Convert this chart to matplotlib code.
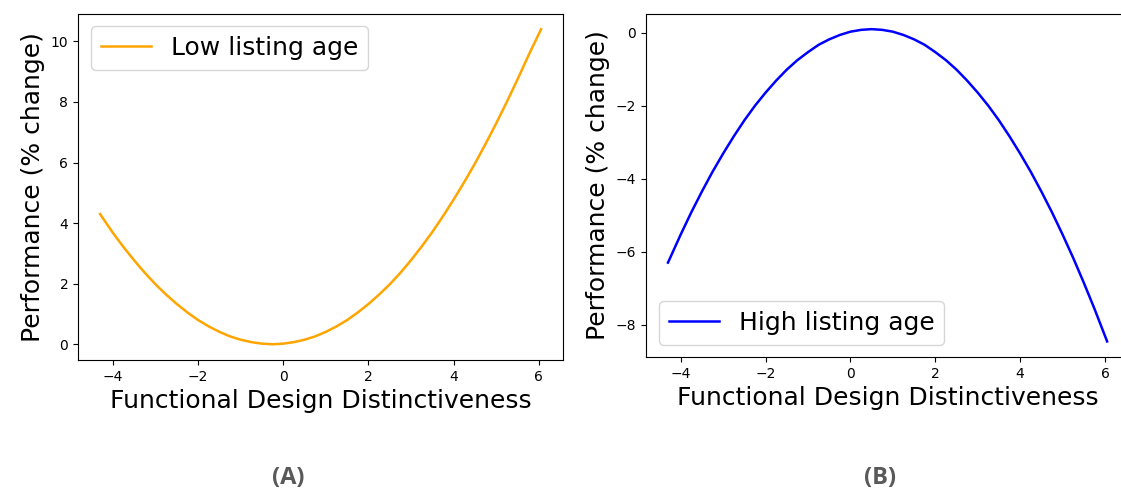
import matplotlib.pyplot as plt
import numpy as np

# values
x = [-4.3, -4.0, -3.75, -3.5, -3.25, -3.0, -2.75, -2.5, -2.25, -2.0, -1.75,
     -1.5, -1.25, -1.0, -0.75, -0.5, -0.25, 0.0, 0.25, 0.5, 0.75,
     1.0, 1.25, 1.5, 1.75, 2.0, 2.25, 2.5, 2.75, 3.0, 3.25,
     3.5, 3.75, 4.0, 4.25, 4.5, 4.75, 5.0, 5.25, 5.5, 5.75, 6.05]
low_age = [4.30, 3.68, 3.21, 2.77, 2.36, 1.98, 1.64, 1.33, 1.05, 0.80, 0.59,
           0.41, 0.26, 0.15, 0.07, 0.02, 0.00, 0.02, 0.07, 0.15, 0.26,
           0.41, 0.59, 0.80, 1.05, 1.33, 1.64, 1.98, 2.36, 2.78, 3.23,
           3.71, 4.23, 4.78, 5.36, 5.97, 6.62, 7.30, 8.01, 8.75, 9.52, 10.40]
high_age = [-6.30, -5.53, -4.92, -4.35, -3.81, -3.31, -2.84, -2.40, -2.00, -1.64, -1.31,
            -1.01, -0.75, -0.53, -0.33, -0.18, -0.06, 0.03, 0.08, 0.10, 0.08,
            0.03, -0.06, -0.18, -0.33, -0.53, -0.75, -1.01, -1.31, -1.64, -2.00,
            -2.40, -2.84, -3.31, -3.81, -4.35, -4.92, -5.53, -6.17, -6.85, -7.56, -8.46]

xlabel = 'Functional Design Distinctiveness'
ylabel = 'Performance (% change)'

fig = plt.figure(figsize=(11.21, 4.90), dpi=100)

ax1 = fig.add_axes([0.0696, 0.2653, 0.4327, 0.7071])
ax1.plot(x, low_age, color='orange', linewidth=1.8, label='Low listing age')
ax1.set_xlabel(xlabel, fontsize=18)
ax1.set_ylabel(ylabel, fontsize=18)
ax1.set_yticks([0, 2, 4, 6, 8, 10])
ax1.set_xticks([-4, -2, 0, 2, 4, 6])
ax1.tick_params(labelsize=10)
ax1.legend(loc='upper left', fontsize=18)

ax2 = fig.add_axes([0.5763, 0.2714, 0.4309, 0.7010])
ax2.plot(x, high_age, color='blue', linewidth=1.8, label='High listing age')
ax2.set_xlabel(xlabel, fontsize=18)
ax2.set_ylabel(ylabel, fontsize=18)
ax2.set_yticks([0, -2, -4, -6, -8])
ax2.set_xticks([-4, -2, 0, 2, 4, 6])
ax2.tick_params(labelsize=10)
ax2.legend(loc='lower left', fontsize=18)

fig.text(0.257, 0.025, '(A)', ha='center', va='center', fontsize=17,
         fontweight='bold', family='Open Sans', color='#595959')
fig.text(0.785, 0.025, '(B)', ha='center', va='center', fontsize=17,
         fontweight='bold', family='Open Sans', color='#595959')

plt.savefig('out.png', dpi=100)
